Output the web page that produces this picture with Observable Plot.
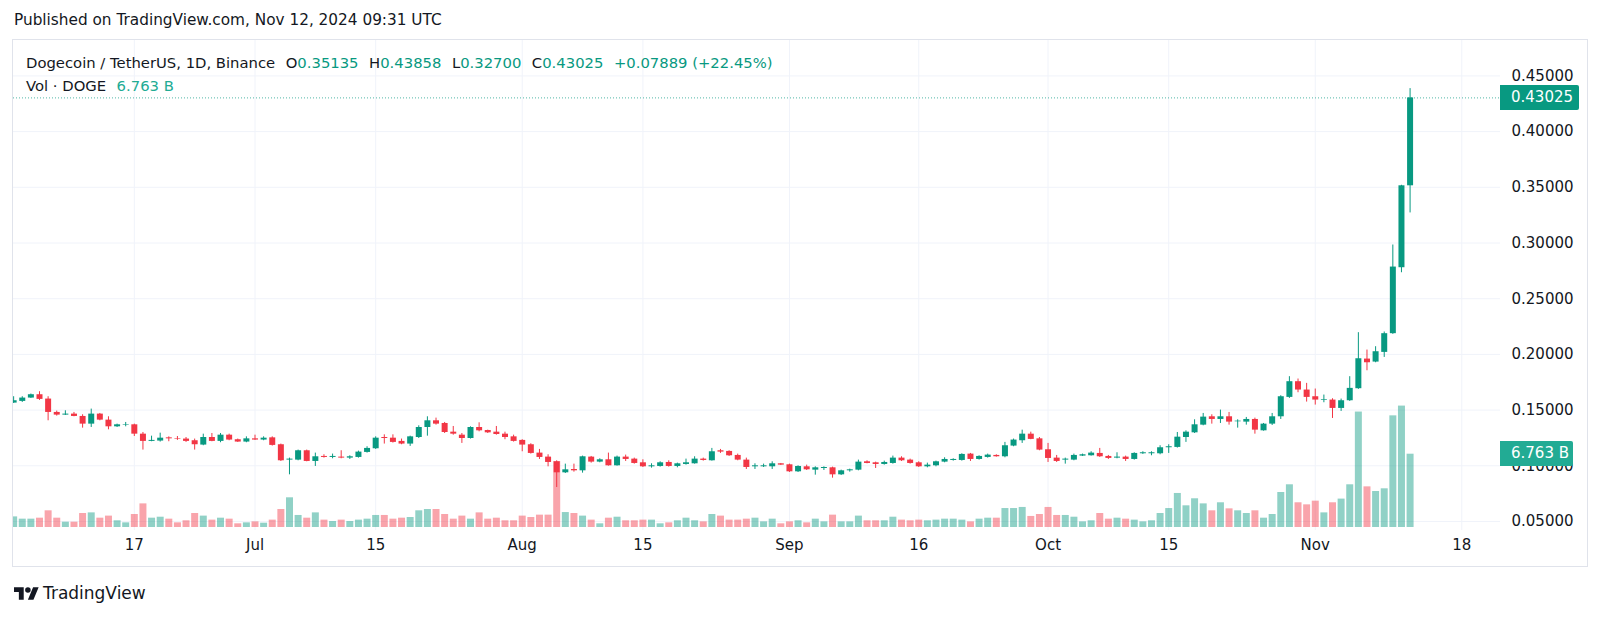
<!DOCTYPE html>
<html>
<head>
<meta charset="utf-8">
<script src="https://cdn.jsdelivr.net/npm/d3@7"></script>
<script src="https://cdn.jsdelivr.net/npm/@observablehq/plot@0.6"></script>
<style>
  html, body { margin: 0; padding: 0; background: #ffffff; }
  #root { position: relative; width: 1600px; height: 618px; overflow: hidden;
          font-family: "DejaVu Sans", sans-serif; color: #131722; }
  #root svg.layer { position: absolute; left: 0; top: 0; }
  #pub { position: absolute; left: 14px; top: 10px; font-size: 15.3px; line-height: 20px; white-space: nowrap; }
  #frame { position: absolute; left: 12px; top: 39px; width: 1576px; height: 528px;
           border: 1px solid #e0e3eb; box-sizing: border-box; }
  #legend { position: absolute; left: 26px; top: 51px; font-size: 14.8px; line-height: 23px; white-space: nowrap; z-index: 5; }
  #legend .g { color: #089981; }
  #legend .k { margin-left: 10.5px; }
  #legend .v { color: #22ab94; margin-left: 10.5px; }
  .tag { position: absolute; left: 1500px; height: 25px; line-height: 25px; color: #fff;
         font-size: 15px; padding-left: 11px; box-sizing: border-box; border-radius: 0 2px 2px 0; z-index: 6; }
  #logo { position: absolute; left: 14px; top: 583px; height: 20px; display: flex; align-items: center; }
  #logo span { font-size: 17px; margin-left: 4px; color: #131722; }
</style>
</head>
<body>
<div id="root">
  <div id="pub">Published on TradingView.com, Nov 12, 2024 09:31 UTC</div>
  <div id="frame"></div>
  <div id="legend">
    <div>Dogecoin / TetherUS, 1D, Binance<span class="k">O</span><span class="g">0.35135</span><span class="k">H</span><span class="g">0.43858</span><span class="k">L</span><span class="g">0.32700</span><span class="k">C</span><span class="g">0.43025</span><span class="g" style="margin-left:10.5px">+0.07889 (+22.45%)</span></div>
    <div>Vol · DOGE<span class="v">6.763 B</span></div>
  </div>
  <div id="logo">
    <svg width="25" height="13" viewBox="0 4 36 18"><path fill="#131722" d="M14 22H7V11H0V4h14v18zM28 22h-8l7.5-18h8L28 22z"/><circle fill="#131722" cx="20" cy="8" r="4"/></svg>
    <span>TradingView</span>
  </div>
</div>
<script>
// ---- data (DOGE/USDT daily, Binance) ----
const firstDay = "2024-06-03";
const open = [
  0.1563,0.1578,0.1608,0.1638,0.1599,0.1479,0.1455,0.1464,0.1443,0.1374,0.1464,0.1410,0.1350,0.1366,0.1368,0.1284,0.1219,0.1222,0.1251,0.1245,0.1240,0.1225,0.1186,0.1254,0.1219,0.1275,0.1234,0.1213,
  0.1242,0.1231,0.1251,0.1189,0.1051,0.1051,0.1135,0.1039,0.1084,0.1075,0.1078,0.1069,0.1075,0.1120,0.1153,0.1254,0.1248,0.1219,0.1195,0.1254,0.1344,0.1404,0.1380,0.1302,0.1275,0.1245,0.1344,0.1317,0.1302,0.1284,0.1260,
  0.1228,0.1189,0.1114,0.1078,0.1036,0.0937,0.0967,0.0955,0.1078,0.1033,0.1054,0.1000,0.1078,0.1060,0.1027,0.0991,0.0994,0.1030,0.0994,0.1012,0.1018,0.1060,0.1045,0.1135,0.1129,0.1093,0.1051,0.0991,0.0991,0.0991,0.1018,
  0.1009,0.0946,0.0991,0.0961,0.0976,0.0982,0.0919,0.0955,0.0961,0.1036,0.1027,0.1012,0.1021,0.1069,0.1051,0.1027,0.0991,0.1000,0.1033,0.1048,0.1048,0.1105,0.1057,0.1075,0.1093,0.1081,0.1177,0.1225,0.1284,0.1242,
  0.1144,0.1069,0.1051,0.1051,0.1087,0.1090,0.1111,0.1084,0.1069,0.1078,0.1057,0.1108,0.1108,0.1108,0.1162,0.1165,0.1254,0.1296,0.1365,0.1440,0.1416,0.1440,0.1395,0.1392,0.1416,0.1314,0.1374,0.1440,0.1614,0.1755,0.1680,
  0.1620,0.1587,0.1590,0.1515,0.1584,0.1692,0.1958,0.1931,0.2018,0.2186,0.2778,0.35135
];
const high = [
  0.1620,0.1620,0.1644,0.1665,0.1620,0.1491,0.1494,0.1479,0.1458,0.1509,0.1470,0.1440,0.1374,0.1389,0.1374,0.1299,0.1266,0.1293,0.1260,0.1263,0.1254,0.1240,0.1284,0.1290,0.1290,0.1284,0.1240,0.1260,
  0.1275,0.1260,0.1260,0.1195,0.1069,0.1141,0.1141,0.1114,0.1099,0.1105,0.1135,0.1090,0.1132,0.1171,0.1260,0.1278,0.1278,0.1240,0.1266,0.1359,0.1440,0.1428,0.1389,0.1353,0.1290,0.1350,0.1386,0.1320,0.1353,0.1302,0.1275,
  0.1234,0.1198,0.1147,0.1099,0.1045,0.1015,0.1015,0.1087,0.1084,0.1063,0.1114,0.1087,0.1096,0.1069,0.1054,0.1018,0.1036,0.1045,0.1024,0.1060,0.1081,0.1069,0.1156,0.1147,0.1135,0.1105,0.1069,0.1018,0.1015,0.1036,0.1021,
  0.1015,0.1000,0.1006,0.0991,0.0991,0.0988,0.0961,0.0970,0.1051,0.1045,0.1033,0.1042,0.1087,0.1081,0.1060,0.1036,0.1024,0.1042,0.1072,0.1063,0.1108,0.1111,0.1090,0.1105,0.1099,0.1210,0.1240,0.1320,0.1302,0.1254,
  0.1201,0.1093,0.1069,0.1105,0.1105,0.1126,0.1156,0.1093,0.1117,0.1087,0.1117,0.1126,0.1126,0.1180,0.1189,0.1299,0.1314,0.1413,0.1470,0.1458,0.1500,0.1479,0.1413,0.1434,0.1428,0.1380,0.1470,0.1629,0.1800,0.1779,0.1740,
  0.1689,0.1635,0.1602,0.1599,0.1800,0.2195,0.2039,0.2069,0.2201,0.2982,0.3518,0.43858
];
const low = [
  0.1560,0.1569,0.1605,0.1587,0.1404,0.1446,0.1452,0.1440,0.1338,0.1344,0.1404,0.1323,0.1344,0.1350,0.1263,0.1141,0.1216,0.1213,0.1216,0.1228,0.1210,0.1141,0.1180,0.1216,0.1207,0.1225,0.1210,0.1207,
  0.1228,0.1225,0.1177,0.1039,0.0919,0.1045,0.1036,0.0994,0.1069,0.1063,0.1063,0.1057,0.1069,0.1114,0.1147,0.1195,0.1204,0.1189,0.1174,0.1245,0.1266,0.1365,0.1290,0.1275,0.1201,0.1240,0.1305,0.1290,0.1275,0.1234,0.1213,
  0.1126,0.1105,0.1057,0.0991,0.0805,0.0931,0.0943,0.0934,0.1024,0.1027,0.0997,0.0997,0.1039,0.1015,0.0985,0.0979,0.0988,0.0988,0.0982,0.1006,0.1015,0.1042,0.1042,0.1111,0.1084,0.1045,0.0967,0.0967,0.0985,0.0967,0.1003,
  0.0940,0.0940,0.0958,0.0916,0.0958,0.0889,0.0913,0.0943,0.0955,0.1018,0.0976,0.1006,0.1015,0.1039,0.1015,0.0985,0.0982,0.0991,0.1027,0.1042,0.1042,0.1039,0.1051,0.1069,0.1078,0.1072,0.1171,0.1201,0.1234,0.1135,
  0.1030,0.1030,0.1015,0.1045,0.1084,0.1087,0.1075,0.1057,0.1063,0.1039,0.1051,0.1102,0.1090,0.1099,0.1111,0.1159,0.1210,0.1290,0.1359,0.1374,0.1380,0.1365,0.1338,0.1365,0.1284,0.1311,0.1362,0.1416,0.1605,0.1656,0.1572,
  0.1545,0.1566,0.1425,0.1488,0.1578,0.1686,0.1853,0.1925,0.1973,0.2180,0.2733,0.32700
];
const close = [
  0.1584,0.1608,0.1638,0.1596,0.1479,0.1455,0.1464,0.1443,0.1374,0.1464,0.1410,0.1350,0.1368,0.1371,0.1284,0.1219,0.1228,0.1248,0.1242,0.1240,0.1219,0.1189,0.1254,0.1219,0.1275,0.1231,0.1213,0.1242,
  0.1231,0.1248,0.1183,0.1045,0.1060,0.1135,0.1039,0.1081,0.1075,0.1084,0.1069,0.1081,0.1123,0.1156,0.1248,0.1245,0.1210,0.1195,0.1260,0.1344,0.1404,0.1374,0.1299,0.1284,0.1245,0.1344,0.1314,0.1296,0.1281,0.1254,0.1219,
  0.1186,0.1111,0.1075,0.1030,0.0937,0.0964,0.0955,0.1081,0.1033,0.1054,0.1000,0.1078,0.1057,0.1021,0.0991,0.1000,0.1027,0.0994,0.1018,0.1027,0.1060,0.1048,0.1126,0.1123,0.1090,0.1051,0.0985,0.1000,0.1000,0.1018,0.1006,
  0.0946,0.0994,0.0964,0.0982,0.0985,0.0919,0.0955,0.0964,0.1033,0.1021,0.1012,0.1030,0.1069,0.1045,0.1021,0.0991,0.1006,0.1036,0.1057,0.1057,0.1102,0.1057,0.1084,0.1096,0.1081,0.1180,0.1231,0.1284,0.1237,0.1141,
  0.1066,0.1039,0.1060,0.1093,0.1099,0.1114,0.1081,0.1066,0.1078,0.1057,0.1111,0.1117,0.1117,0.1162,0.1171,0.1257,0.1302,0.1368,0.1437,0.1416,0.1440,0.1392,0.1401,0.1416,0.1320,0.1374,0.1440,0.1620,0.1755,0.1680,0.1614,
  0.1590,0.1593,0.1515,0.1584,0.1695,0.1961,0.1925,0.2024,0.2186,0.2784,0.35135,0.43025
];
const volumeB = [
  0.98,0.77,0.77,0.86,1.54,0.86,0.49,0.49,1.29,1.35,0.86,1.05,0.62,0.43,1.20,2.18,0.86,0.95,0.77,0.43,0.62,1.29,1.05,0.68,0.86,0.77,0.34,0.43,
  0.52,0.40,0.68,1.66,2.74,1.11,0.86,1.35,0.68,0.55,0.68,0.55,0.68,0.77,1.11,1.11,0.77,0.86,0.92,1.54,1.66,1.66,1.20,0.77,1.05,0.77,1.35,0.77,0.86,0.62,0.62,
  1.05,0.92,1.14,1.14,6.09,1.38,1.29,1.05,0.68,0.34,0.86,0.95,0.62,0.62,0.68,0.68,0.34,0.43,0.62,0.86,0.62,0.52,1.20,1.05,0.68,0.68,0.77,0.86,0.52,0.77,0.34,
  0.52,0.62,0.43,0.77,0.52,1.14,0.52,0.52,1.05,0.62,0.62,0.62,0.95,0.68,0.62,0.68,0.62,0.68,0.77,0.77,0.68,0.52,0.77,0.86,0.86,1.75,1.75,1.85,1.02,1.20,
  1.85,1.11,1.11,0.95,0.52,0.62,1.29,0.77,0.86,0.77,0.68,0.52,0.62,1.29,1.75,3.14,2.00,2.65,2.18,1.54,2.28,1.72,1.54,1.29,1.54,0.86,1.20,3.23,3.94,2.28,2.09,
  2.43,1.35,2.28,2.62,3.94,10.65,3.75,3.32,3.57,10.30,11.20,6.763
];
const priceTicks = [0.05, 0.10, 0.15, 0.20, 0.25, 0.30, 0.35, 0.40, 0.45];
const dateTicks = ["2024-06-17","2024-07-01","2024-07-15","2024-08-01","2024-08-15","2024-09-01","2024-09-16","2024-10-01","2024-10-15","2024-11-01","2024-11-18"];
const dateTickLabels = ["17","Jul","15","Aug","15","Sep","16","Oct","15","Nov","18"];

// ---- build ----
const UP = "#089981", DOWN = "#f23645";
const VUP = "rgba(8,153,129,0.45)", VDOWN = "rgba(242,54,69,0.45)";
const t0 = new Date(firstDay + "T00:00:00Z");
const rows = open.map((o, i) => ({
  date: d3.utcDay.offset(t0, i), open: o, high: high[i], low: low[i], close: close[i], vol: volumeB[i]
}));
const last = rows[rows.length - 1];
const tickDates = dateTicks.map(s => new Date(s + "T00:00:00Z"));
const candleColor = d => d.close >= d.open ? UP : DOWN;

const common = {
  width: 1600, height: 618,
  marginLeft: 13, marginRight: 100, marginTop: 40, marginBottom: 88,
  x: {type: "utc", domain: [new Date("2024-07-01T00:00:00Z"), new Date("2024-11-18T00:00:00Z")], range: [254.5, 1461.3], axis: null},
  style: {background: "transparent", fontFamily: "DejaVu Sans, sans-serif", fontSize: "15px", color: "#131722", overflow: "visible"}
};
const priceY = {domain: [0.05, 0.45], range: [521, 75.4], axis: null};

const grid = Plot.plot({
  ...common, y: priceY,
  marks: [
    Plot.ruleY(priceTicks, {y: d => d, stroke: "#f0f3fa", strokeWidth: 1}),
    Plot.ruleX(tickDates, {x: d => d, stroke: "#f0f3fa", strokeWidth: 1}),
    Plot.text(priceTicks, {y: d => d, text: d => d.toFixed(5), frameAnchor: "right", dx: 11, textAnchor: "start", fill: "#131722", fontSize: 15}),
    Plot.text(tickDates, {x: d => d, text: (d, i) => dateTickLabels[i], frameAnchor: "bottom", dy: 19, fill: "#131722", fontSize: 15})
  ]
});

const vol = Plot.plot({
  ...common,
  y: {domain: [0, 12], range: [527, 527 - 12 * 10.84], axis: null},
  marks: [
    Plot.ruleX(rows, {x: "date", y1: 0, y2: "vol", stroke: d => d.close >= d.open ? VUP : VDOWN, strokeWidth: 7, clip: "frame"})
  ]
});

const price = Plot.plot({
  ...common, y: priceY,
  marks: [
    Plot.ruleY([last.close], {y: d => d, stroke: UP, strokeOpacity: 0.7, strokeDasharray: "1 2", strokeWidth: 1}),
    Plot.ruleX(rows, {x: "date", y1: "low", y2: "high", stroke: candleColor, strokeWidth: 1, clip: "frame"}),
    Plot.ruleX(rows, {x: "date", y1: "open", y2: "close", stroke: candleColor, strokeWidth: 6, clip: "frame"})
  ]
});

const root = document.getElementById("root");
const frame = document.getElementById("frame");
[grid, vol, price].forEach(svg => svg.classList.add("layer"));
root.insertBefore(grid, frame.nextSibling);
root.insertBefore(vol, grid.nextSibling);
root.insertBefore(price, vol.nextSibling);

// price and volume tags on the right axis, placed with the plots' scales
const pTag = document.createElement("div");
pTag.className = "tag";
pTag.style.background = UP;
pTag.style.width = "79px";
pTag.style.top = (price.scale("y").apply(last.close) - 12.5) + "px";
pTag.textContent = last.close.toFixed(5);
root.appendChild(pTag);

const vTag = document.createElement("div");
vTag.className = "tag";
vTag.style.background = "#22ab94";
vTag.style.width = "73px";
vTag.style.top = (vol.scale("y").apply(last.vol) - 12.5) + "px";
vTag.textContent = last.vol.toFixed(3) + " B";
root.appendChild(vTag);
</script>
</body>
</html>
